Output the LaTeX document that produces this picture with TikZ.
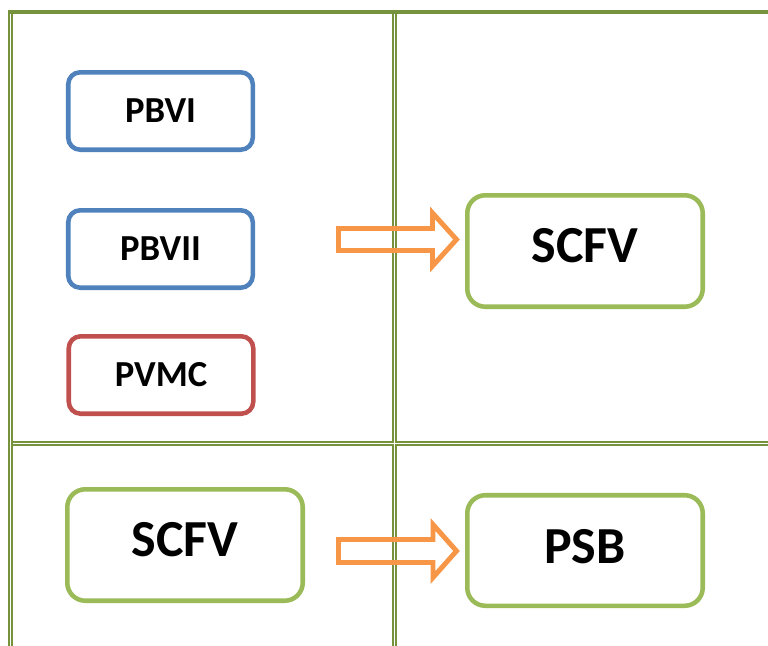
\documentclass[tikz,border=0pt]{standalone}
\usepackage{fontspec}
\setmainfont{Carlito}
\definecolor{gridgreen}{HTML}{76923C}
\definecolor{boxblue}{HTML}{4F81BD}
\definecolor{boxred}{HTML}{C0504D}
\definecolor{boxgreen}{HTML}{9BBB59}
\definecolor{arroworange}{HTML}{F79646}
\begin{document}
\begin{tikzpicture}[x=0.75pt,y=-0.75pt,
  gridline/.style={draw=gridgreen,line width=1.3pt},
  smallbox/.style={draw,line width=3.4pt,rounded corners=9pt,minimum width=138.4pt,minimum height=58.1pt,inner sep=0pt,font=\bfseries\fontsize{27.5}{30}\selectfont},
  bigbox/.style={draw=boxgreen,line width=3.4pt,rounded corners=13.5pt,minimum width=176.6pt,minimum height=83.6pt,inner sep=0pt,text depth=8pt,font=\bfseries\fontsize{39}{42}\selectfont},
  blockarrow/.style={draw=arroworange,line width=3.7pt,miter limit=10}]
\useasboundingbox (0,0) rectangle (768,646);
% table grid
\draw[draw=gridgreen,line width=3pt] (8.3,12) -- (768,12);
\draw[gridline] (9.2,10) -- (9.2,646);
\draw[gridline] (11.9,12) -- (11.9,646);
\draw[gridline] (392.8,12) -- (392.8,646);
\draw[gridline] (395.7,12) -- (395.7,646);
\draw[gridline] (11.9,442) -- (768,442);
\draw[gridline] (11.9,445) -- (768,445);
\fill[white] (393.7,441) rectangle (394.8,446);
\fill[white] (392,443.1) rectangle (397,443.9);
% block arrows
\draw[blockarrow] (338.5,228.5) -- (432.5,228.5) -- (432.5,213) -- (456.5,239.5) -- (432.5,266) -- (432.5,250.5) -- (338.5,250.5) -- cycle;
\draw[blockarrow] (338.5,539.5) -- (433,539.5) -- (433,524.5) -- (456.5,551) -- (433,577.5) -- (433,562.5) -- (338.5,562.5) -- cycle;
% boxes
\node[smallbox,draw=boxblue] (pbvi) at (160.5,111) {PBVI};
\node[smallbox,draw=boxblue] (pbvii) at (160.5,249) {PBVII};
\node[smallbox,draw=boxred] (pvmc) at (161,375) {PVMC};
\node[bigbox] (scfvtop) at (585,251) {SCFV};
\node[bigbox] (scfvbot) at (185,545) {SCFV};
\node[bigbox,text depth=6pt,minimum height=82.9pt] (psb) at (585,550.5) {PSB};
\end{tikzpicture}
\end{document}
